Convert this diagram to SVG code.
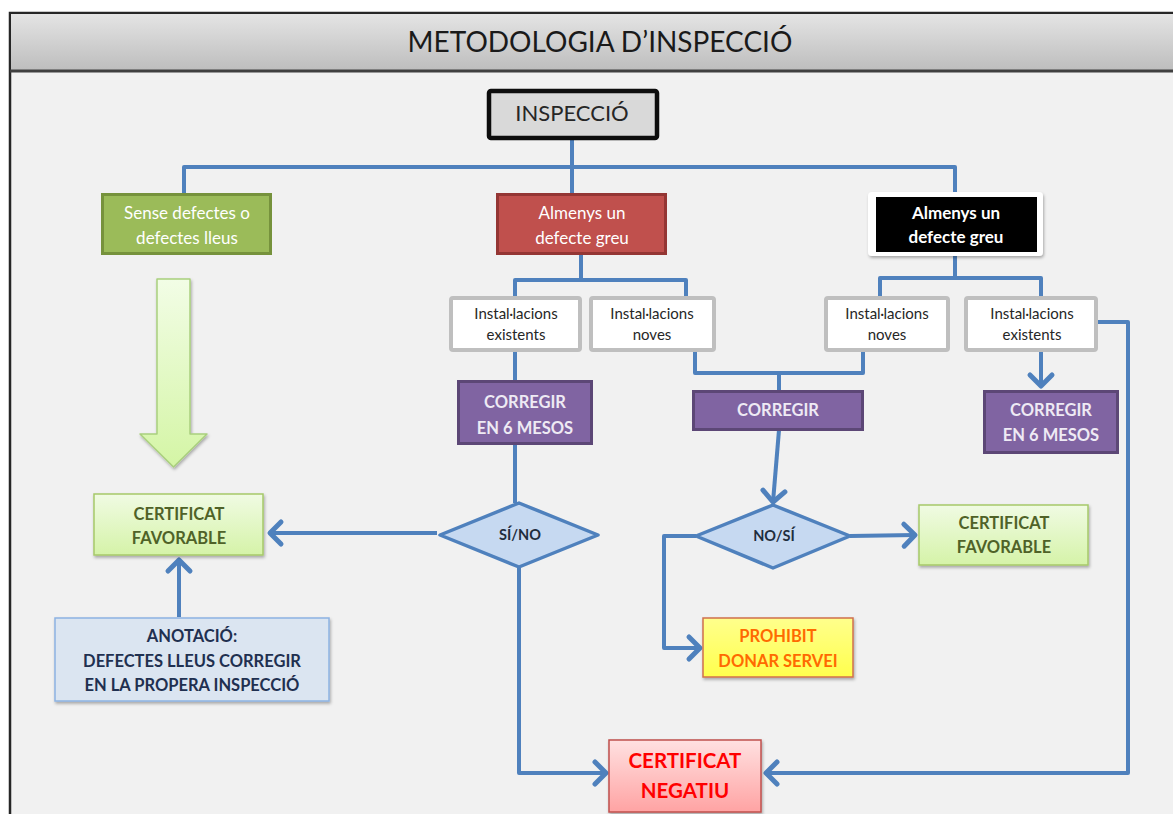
<svg xmlns="http://www.w3.org/2000/svg" width="1173" height="814" viewBox="0 0 1173 814">
<defs>
<style>
.t{font-family:Lato,"Open Sans","Liberation Sans",sans-serif;text-anchor:middle}
.w{fill:#ffffff;font-size:17px}
.wb{fill:#ffffff;font-size:17px;font-weight:bold}
.inst{fill:#262626;font-size:15px}
.instbox{fill:#ffffff;stroke:#bfbfbf;stroke-width:4}
.purple{fill:#8064a2;stroke:#5c4776;stroke-width:3}
.ptxt{fill:#eeeaf4;font-size:16.5px;font-weight:bold}
.fav{fill:url(#gFav);stroke:#a6c96a;stroke-width:1.5}
.favtxt{fill:#4f6228;font-size:16.5px;font-weight:bold}
.dia{fill:#c6d9f1;stroke:#4f81bd;stroke-width:3.5;stroke-linejoin:round}
.diatxt{fill:#1f2d3d;font-size:14.5px;font-weight:bold}
.con{fill:none;stroke:#4f81bd;stroke-width:4;stroke-linejoin:round}
.ano{fill:#1f3050;font-size:16.5px;font-weight:bold}
.proh{fill:#ff6a00;font-size:16.5px;font-weight:bold}
.neg{fill:#ff0000;font-size:20.5px;font-weight:bold}
</style>
<linearGradient id="gTitle" x1="0" y1="0" x2="0" y2="1">
<stop offset="0" stop-color="#e4e4e4"/><stop offset="1" stop-color="#bdbdbd"/>
</linearGradient>
<linearGradient id="gFav" x1="0" y1="0" x2="0" y2="1">
<stop offset="0" stop-color="#f0fbe3"/><stop offset="1" stop-color="#d5f3a8"/>
</linearGradient>
<linearGradient id="gArrow" x1="0" y1="0" x2="0" y2="1">
<stop offset="0" stop-color="#f2fde6"/><stop offset="1" stop-color="#d4f5a5"/>
</linearGradient>
<linearGradient id="gNeg" x1="0" y1="0" x2="0" y2="1">
<stop offset="0" stop-color="#ffe1e1"/><stop offset="1" stop-color="#ffa3a3"/>
</linearGradient>
<linearGradient id="gProh" x1="0" y1="0" x2="0" y2="1">
<stop offset="0" stop-color="#ffff8c"/><stop offset="1" stop-color="#ffff4d"/>
</linearGradient>
<filter id="sh" x="-10%" y="-10%" width="130%" height="140%">
<feDropShadow dx="1" dy="2" stdDeviation="1.5" flood-color="#000" flood-opacity="0.3"/>
</filter>
<marker id="arr" markerUnits="userSpaceOnUse" markerWidth="30" markerHeight="30" viewBox="-16 -15 20 30" refX="0" refY="0" orient="auto">
<path d="M-11,-11 L0,0 L-11,11" fill="none" stroke="#4f81bd" stroke-width="5" stroke-linecap="round" stroke-linejoin="round"/>
</marker>
</defs>

<rect x="0" y="0" width="1173" height="814" fill="#ffffff"/>
<g id="frame">
<rect x="10" y="13" width="1180" height="820" fill="#f1f1f1" stroke="#262626" stroke-width="2.5"/>
<rect x="11" y="14" width="1170" height="57" fill="url(#gTitle)"/>
<line x1="10" y1="71" x2="1173" y2="71" stroke="#404040" stroke-width="3"/>
<text class="t" x="600" y="52" font-size="28" fill="#1a1a1a">METODOLOGIA D’INSPECCIÓ</text>
</g>

<g id="connectors">
<path class="con" d="M572,139 V193 M184,195 V167 H955 V193"/>
<path class="con" d="M581,254 V280 M515,296 V280 H686 V296"/>
<path class="con" d="M955,256 V278 M880,296 V278 H1041 V296"/>
<path class="con" d="M515,351 V380"/>
<path class="con" d="M695,351 V373 H863 V351 M779,373 V390"/>
<path class="con" d="M779,430 L773,502" marker-end="url(#arr)"/>
<path class="con" d="M1041,351 V386" marker-end="url(#arr)"/>
<path class="con" d="M1097,322 H1128 V773 H766" marker-end="url(#arr)"/>
<path class="con" d="M515,444 V503"/>
<path class="con" d="M437,533 H270" marker-end="url(#arr)"/>
<path class="con" d="M519,567 V773 H606" marker-end="url(#arr)"/>
<path class="con" d="M179,617 V560" marker-end="url(#arr)"/>
<path class="con" d="M850,536 L915,535" marker-end="url(#arr)"/>
<path class="con" d="M696,536 H664 V648 H700" marker-end="url(#arr)"/>
</g>

<g id="inspeccio">
<rect x="489" y="91" width="168" height="47" fill="#d9d9d9" stroke="#0d0d0d" stroke-width="4.5" rx="2"/>
<text class="t" x="572" y="121" font-size="22" fill="#262626">INSPECCIÓ</text>
</g>

<g id="sense-defectes">
<rect x="102.5" y="194.5" width="168" height="59" fill="#9bbb59" stroke="#76923c" stroke-width="3"/>
<text class="t w" x="187" y="219">Sense defectes o</text>
<text class="t w" x="187" y="244">defectes lleus</text>
</g>

<g id="almenys-vermell">
<rect x="497.5" y="194.5" width="168" height="59" fill="#c0504d" stroke="#943634" stroke-width="3"/>
<text class="t w" x="582" y="219">Almenys un</text>
<text class="t w" x="582" y="244">defecte greu</text>
</g>

<g id="almenys-negre">
<rect x="868" y="192" width="175" height="64" rx="4" fill="#ffffff" filter="url(#sh)"/>
<rect x="876" y="197" width="161" height="55" fill="#000000"/>
<text class="t wb" x="956" y="219">Almenys un</text>
<text class="t wb" x="956" y="243">defecte greu</text>
</g>

<g id="inst-existents-1">
<rect class="instbox" x="451" y="298" width="129" height="52" rx="2"/>
<text class="t inst" x="516" y="319">Instal·lacions</text>
<text class="t inst" x="516" y="340">existents</text>
</g>
<g id="inst-noves-1">
<rect class="instbox" x="591" y="298" width="123" height="52" rx="2"/>
<text class="t inst" x="652" y="319">Instal·lacions</text>
<text class="t inst" x="652" y="340">noves</text>
</g>
<g id="inst-noves-2">
<rect class="instbox" x="826" y="298" width="122" height="52" rx="2"/>
<text class="t inst" x="887" y="319">Instal·lacions</text>
<text class="t inst" x="887" y="340">noves</text>
</g>
<g id="inst-existents-2">
<rect class="instbox" x="966" y="298" width="130" height="52" rx="2"/>
<text class="t inst" x="1032" y="319">Instal·lacions</text>
<text class="t inst" x="1032" y="340">existents</text>
</g>

<g id="corregir-6-mesos-1">
<rect class="purple" x="458.5" y="381.5" width="133" height="62"/>
<text class="t ptxt" x="525" y="408">CORREGIR</text>
<text class="t ptxt" x="525" y="434">EN 6 MESOS</text>
</g>
<g id="corregir">
<rect class="purple" x="693.5" y="391.5" width="169" height="38"/>
<text class="t ptxt" x="778" y="416">CORREGIR</text>
</g>
<g id="corregir-6-mesos-2">
<rect class="purple" x="984.5" y="391.5" width="133" height="61"/>
<text class="t ptxt" x="1051" y="416">CORREGIR</text>
<text class="t ptxt" x="1051" y="441">EN 6 MESOS</text>
</g>

<g id="fletxa-verda">
<path d="M157,279 H190 V434 H207 L173.5,467 L140,434 H157 Z" fill="url(#gArrow)" stroke="#a9cf7d" stroke-width="1.5" stroke-linejoin="round" filter="url(#sh)"/>
</g>

<g id="certificat-favorable-1">
<rect class="fav" x="94" y="494" width="169" height="61" filter="url(#sh)"/>
<text class="t favtxt" x="179" y="520">CERTIFICAT</text>
<text class="t favtxt" x="179" y="544">FAVORABLE</text>
</g>

<g id="anotacio">
<rect x="55" y="618" width="274" height="83" fill="#dbe5f1" stroke="#8db3e2" stroke-width="1.5" filter="url(#sh)"/>
<text class="t ano" x="192" y="642">ANOTACIÓ:</text>
<text class="t ano" x="192" y="667">DEFECTES LLEUS CORREGIR</text>
<text class="t ano" x="192" y="691">EN LA PROPERA INSPECCIÓ</text>
</g>

<g id="si-no">
<polygon class="dia" points="440,535 519,503 598,535 519,567"/>
<text class="t diatxt" x="520" y="540">SÍ/NO</text>
</g>

<g id="no-si">
<polygon class="dia" points="696,536 773,505 850,536 773,568"/>
<text class="t diatxt" x="774" y="541">NO/SÍ</text>
</g>

<g id="certificat-favorable-2">
<rect class="fav" x="919" y="505" width="169" height="60" filter="url(#sh)"/>
<text class="t favtxt" x="1004" y="529">CERTIFICAT</text>
<text class="t favtxt" x="1004" y="553">FAVORABLE</text>
</g>

<g id="prohibit">
<rect x="703" y="618" width="150" height="59" fill="url(#gProh)" stroke="#d0704d" stroke-width="1.5" filter="url(#sh)"/>
<text class="t proh" x="778" y="642">PROHIBIT</text>
<text class="t proh" x="778" y="667">DONAR SERVEI</text>
</g>

<g id="certificat-negatiu">
<rect x="609" y="740" width="152" height="72" fill="url(#gNeg)" stroke="#c0504d" stroke-width="1.5" filter="url(#sh)"/>
<text class="t neg" x="685" y="768" >CERTIFICAT</text>
<text class="t neg" x="685" y="798">NEGATIU</text>
</g>
</svg>
